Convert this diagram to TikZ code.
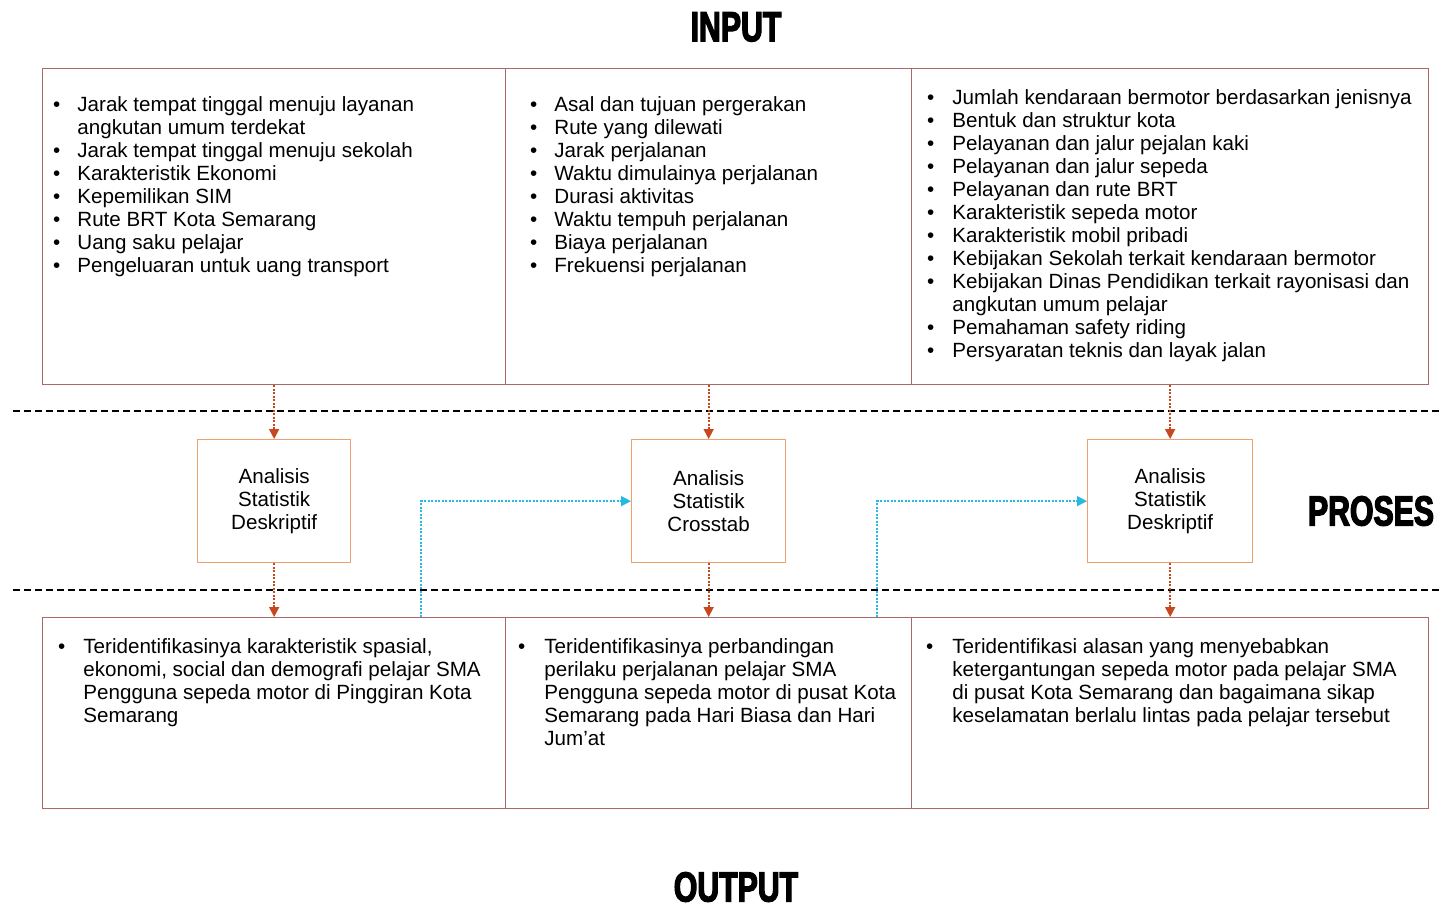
\documentclass[tikz,border=0pt]{standalone}
\usepackage{fontspec}
\setmainfont{Liberation Sans}
\newfontfamily\titlefont{Liberation Sans}[FakeStretch=0.72,FakeBold=3]
\usetikzlibrary{arrows.meta}
\definecolor{boxline}{RGB}{170,105,105}
\definecolor{procline}{RGB}{238,160,110}
\definecolor{redarr}{RGB}{200,72,30}
\definecolor{cyanarr}{RGB}{40,185,225}
\tikzset{
  bigbox/.style={draw=boxline, line width=1.3pt, anchor=north west, inner sep=0pt},
  procbox/.style={draw=procline, line width=1.3pt, anchor=north west, inner sep=0pt},
  proctext/.style={align=center, font=\fontsize{20.6}{23}\selectfont},
  listtext/.style={anchor=base west, inner sep=0pt, font=\fontsize{20.6}{23}\selectfont},
  sepline/.style={line width=2.5pt, dash pattern=on 7pt off 4pt},
  redflow/.style={redarr, line width=1.7pt, dash pattern=on 2pt off 1.5pt, -{Triangle[length=10pt,width=10pt]}},
  cyanflow/.style={cyanarr, line width=1.7pt, dash pattern=on 2pt off 1.5pt, -{Triangle[length=10pt,width=10pt]}},
  title/.style={font=\titlefont\bfseries\fontsize{42}{42}\selectfont, inner sep=0pt}
}
\newcommand{\bl}{\textbullet}
\begin{document}
\begin{tikzpicture}[x=1pt, y={(0pt,-1pt)}]
\useasboundingbox (0,0) rectangle (1442,909);

% titles
\node[title] (tin) at (736,27) {INPUT};
\node[title] (tout) at (736,887) {OUTPUT};
\node[title] (tpro) at (1371,511) {PROSES};

% separators
\coordinate (s1a) at (13,411); \coordinate (s1b) at (1441,411);
\coordinate (s2a) at (13,590); \coordinate (s2b) at (1441,590);
\draw[sepline] (s1a) -- (s1b);
\draw[sepline] (s2a) -- (s2b);

% top boxes
\node[bigbox, minimum width=463pt, minimum height=316pt] (t1) at (42,68) {};
\node[bigbox, minimum width=406pt, minimum height=316pt] (t2) at (505,68) {};
\node[bigbox, minimum width=517pt, minimum height=316pt] (t3) at (911,68) {};

% bottom boxes
\node[bigbox, minimum width=463pt, minimum height=191pt] (b1) at (42,617) {};
\node[bigbox, minimum width=406pt, minimum height=191pt] (b2) at (505,617) {};
\node[bigbox, minimum width=517pt, minimum height=191pt] (b3) at (911,617) {};

% process boxes
\node[procbox, minimum width=153pt, minimum height=123pt] (p1) at (197,439) {};
\node[procbox, minimum width=154pt, minimum height=123pt] (p2) at (631,439) {};
\node[procbox, minimum width=165pt, minimum height=123pt] (p3) at (1087,439) {};
\node[proctext] (p1t) at (p1.center) {Analisis\\Statistik\\Deskriptif};
\node[proctext] (p2t) at (p2.center) {Analisis\\Statistik\\Crosstab};
\node[proctext] (p3t) at (p3.center) {Analisis\\Statistik\\Deskriptif};

% top texts
\node[listtext] (t1t) at (53,112) {\begin{tabular}[t]{@{}l@{\hspace{17pt}}l@{}}
\bl & Jarak tempat tinggal menuju layanan\\
 & angkutan umum terdekat\\
\bl & Jarak tempat tinggal menuju sekolah\\
\bl & Karakteristik Ekonomi\\
\bl & Kepemilikan SIM\\
\bl & Rute BRT Kota Semarang\\
\bl & Uang saku pelajar\\
\bl & Pengeluaran untuk uang transport
\end{tabular}};
\node[listtext] (t2t) at (530,112) {\begin{tabular}[t]{@{}l@{\hspace{17pt}}l@{}}
\bl & Asal dan tujuan pergerakan\\
\bl & Rute yang dilewati\\
\bl & Jarak perjalanan\\
\bl & Waktu dimulainya perjalanan\\
\bl & Durasi aktivitas\\
\bl & Waktu tempuh perjalanan\\
\bl & Biaya perjalanan\\
\bl & Frekuensi perjalanan
\end{tabular}};
\node[listtext] (t3t) at (927,105) {\begin{tabular}[t]{@{}l@{\hspace{18pt}}l@{}}
\bl & Jumlah kendaraan bermotor berdasarkan jenisnya\\
\bl & Bentuk dan struktur kota\\
\bl & Pelayanan dan jalur pejalan kaki\\
\bl & Pelayanan dan jalur sepeda\\
\bl & Pelayanan dan rute BRT\\
\bl & Karakteristik sepeda motor\\
\bl & Karakteristik mobil pribadi\\
\bl & Kebijakan Sekolah terkait kendaraan bermotor\\
\bl & Kebijakan Dinas Pendidikan terkait rayonisasi dan\\
 & angkutan umum pelajar\\
\bl & Pemahaman safety riding\\
\bl & Persyaratan teknis dan layak jalan
\end{tabular}};

% bottom texts
\node[listtext] (b1t) at (58,653) {\begin{tabular}[t]{@{}l@{\hspace{18pt}}l@{}}
\bl & Teridentifikasinya karakteristik spasial,\\
 & ekonomi, social dan demografi pelajar SMA\\
 & Pengguna sepeda motor di Pinggiran Kota\\
 & Semarang
\end{tabular}};
\node[listtext] (b2t) at (518,653) {\begin{tabular}[t]{@{}l@{\hspace{19pt}}l@{}}
\bl & Teridentifikasinya perbandingan\\
 & perilaku perjalanan pelajar SMA\\
 & Pengguna sepeda motor di pusat Kota\\
 & Semarang pada Hari Biasa dan Hari\\
 & Jum'at
\end{tabular}};
\node[listtext] (b3t) at (926,653) {\begin{tabular}[t]{@{}l@{\hspace{19pt}}l@{}}
\bl & Teridentifikasi alasan yang menyebabkan\\
 & ketergantungan sepeda motor pada pelajar SMA\\
 & di pusat Kota Semarang dan bagaimana sikap\\
 & keselamatan berlalu lintas pada pelajar tersebut
\end{tabular}};

% red flows
\draw[redflow] (p1.north |- t1.south) -- (p1.north);
\draw[redflow] (p2.north |- t2.south) -- (p2.north);
\draw[redflow] (p3.north |- t3.south) -- (p3.north);
\draw[redflow] (p1.south) -- (p1.south |- b1.north);
\draw[redflow] (p2.south) -- (p2.south |- b2.north);
\draw[redflow] (p3.south) -- (p3.south |- b3.north);

% cyan flows
\coordinate (c1) at (421,617);
\coordinate (c2) at (877,617);
\draw[cyanflow] (c1) |- (p2.west);
\draw[cyanflow] (c2) |- (p3.west);
\end{tikzpicture}
\end{document}
